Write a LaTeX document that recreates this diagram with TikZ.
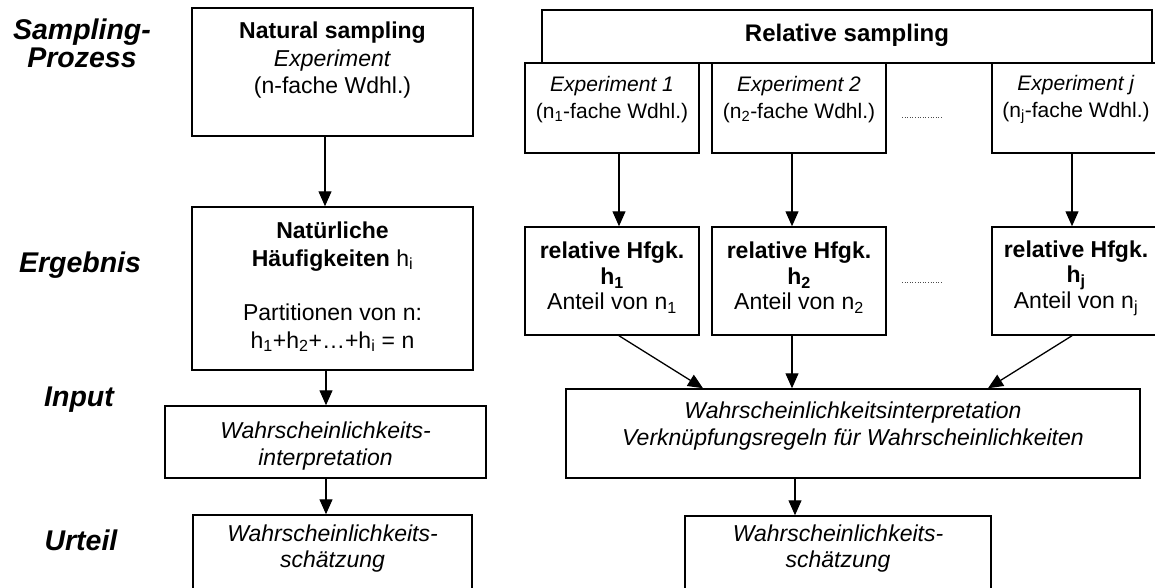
\documentclass[tikz,border=0pt]{standalone}
\usepackage{fontspec}
\setmainfont{Liberation Sans}
\usetikzlibrary{arrows.meta}
\begin{document}
\begin{tikzpicture}[x=1pt,y=-1pt,
  box/.style={draw, line width=1.5pt, rectangle, inner sep=0pt},
  txt/.style={inner sep=0pt, align=center},
  big/.style={font=\fontsize{23}{27.5}\selectfont},
  hbox/.style={font=\fontsize{23}{25.5}\selectfont},
  small/.style={font=\fontsize{21}{26.5}\selectfont},
  itbig/.style={font=\fontsize{23}{26.5}\selectfont\itshape},
  lbl/.style={inner sep=0pt, align=center, font=\fontsize{28.5}{28}\selectfont\bfseries\itshape},
  arr/.style={line width=1.3pt, -{Triangle[width=13pt,length=15pt]}},
  dotline/.style={line width=1pt, dash pattern=on 1pt off 1.6pt, gray!60!black}
]
\useasboundingbox (0,0) rectangle (1155,588);
\clip (0,0) rectangle (1155,588);

% row labels
\node[lbl] (lSampling) at (82,43.5) {Sampling-\\Prozess};
\node[lbl] (lErgebnis) at (80,265) {Ergebnis};
\node[lbl] (lInput) at (79,400) {Input};
\node[lbl] (lUrteil) at (81,540) {Urteil};

% natural sampling column
\node[box, minimum width=281pt, minimum height=128pt] (nat) at (332.5,72) {};
\node[box, minimum width=281pt, minimum height=163pt] (nh) at (332.5,288.5) {};
\node[box, minimum width=321pt, minimum height=72pt] (lint) at (325.5,442) {};
\node[box, minimum width=279pt, minimum height=125pt] (lsch) at (332.5,577.5) {};

\node[txt, big] (natT) at (332.5,60.5)
  {\textbf{Natural sampling}\\\textit{Experiment}\\(n-fache Wdhl.)};
\node[txt, big] (nhT) at (332.5,287)
  {\textbf{Natürliche}\\\textbf{Häufigkeiten} h\textsubscript{i}\\[27pt]Partitionen von n:\\h\textsubscript{1}+h\textsubscript{2}+…+h\textsubscript{i} = n};
\node[txt, itbig] (lintT) at (325.5,446)
  {Wahrscheinlichkeits-\\interpretation};
\node[txt, itbig] (lschT) at (332.5,548.5)
  {Wahrscheinlichkeits-\\schätzung};

\draw[arr] (325,0 |- nat.south) -- (325,0 |- nh.north);
\draw[arr] (326,0 |- nh.south) -- (326,0 |- lint.north);
\draw[arr] (326,0 |- lint.south) -- (326,0 |- lsch.north);

% relative sampling column
\node[box, minimum width=174pt, minimum height=90pt] (e1) at (612,108) {};
\node[box, minimum width=174pt, minimum height=90pt] (e2) at (799,108) {};
\node[box, minimum width=174pt, minimum height=90pt] (ej) at (1079,108) {};
\node[box, fill=white, minimum width=610pt, minimum height=53pt] (rs) at (847,36.5) {};
\node[txt, font=\fontsize{24}{27}\selectfont\bfseries] (rsT) at (847,35) {Relative sampling};

\node[txt, small] (e1T) at (612,99.5) {\textit{Experiment 1}\\(n\textsubscript{1}-fache Wdhl.)};
\node[txt, small] (e2T) at (799,99.5) {\textit{Experiment 2}\\(n\textsubscript{2}-fache Wdhl.)};
\node[txt, small] (ejT) at (1076,99.5) {\textit{Experiment j}\\(n\textsubscript{j}-fache Wdhl.)};

\node[box, minimum width=174pt, minimum height=108pt] (h1) at (612,281) {};
\node[box, minimum width=174pt, minimum height=108pt] (h2) at (799,281) {};
\node[box, minimum width=174pt, minimum height=108pt] (hj) at (1079,281) {};

\node[txt, hbox] (h1T) at (612,278) {\textbf{relative Hfgk.}\\\textbf{h\textsubscript{1}}\\Anteil von n\textsubscript{1}};
\node[txt, hbox] (h2T) at (799,278) {\textbf{relative Hfgk.}\\\textbf{h\textsubscript{2}}\\Anteil von n\textsubscript{2}};
\node[txt, hbox] (hjT) at (1076,278) {\textbf{relative Hfgk.}\\\textbf{h\textsubscript{j}}\\Anteil von n\textsubscript{j}};

\draw[dotline] (902,118) -- (942,118);
\draw[dotline] (902,282) -- (942,282);

\node[box, minimum width=574pt, minimum height=89pt] (rint) at (853,433.5) {};
\node[txt, itbig] (rintT) at (853,426)
  {Wahrscheinlichkeitsinterpretation\\Verknüpfungsregeln für Wahrscheinlichkeiten};
\node[box, minimum width=306pt, minimum height=124pt] (rsch) at (838,578) {};
\node[txt, itbig] (rschT) at (838,548.5) {Wahrscheinlichkeits-\\schätzung};

\draw[arr] (619,0 |- e1.south) -- (619,0 |- h1.north);
\draw[arr] (792,0 |- e2.south) -- (792,0 |- h2.north);
\draw[arr] (1072,0 |- ej.south) -- (1072,0 |- hj.north);

\draw[arr] (619,0 |- h1.south) -- (703,0 |- rint.north);
\draw[arr] (792,0 |- h2.south) -- (792,0 |- rint.north);
\draw[arr] (1072,0 |- hj.south) -- (988,0 |- rint.north);

\draw[arr] (795,0 |- rint.south) -- (795,0 |- rsch.north);
\end{tikzpicture}
\end{document}
